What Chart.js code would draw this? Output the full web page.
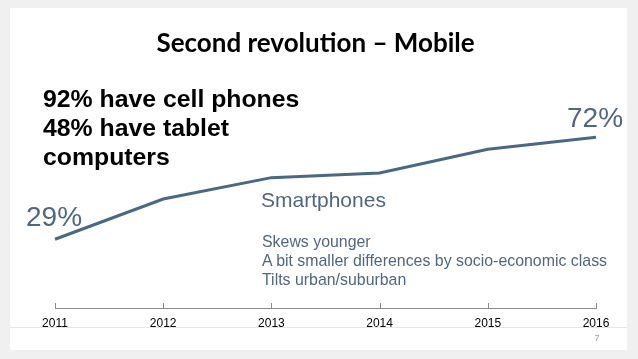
<!DOCTYPE html>
<html>
<head>
<meta charset="utf-8">
<script src="https://cdn.jsdelivr.net/npm/chart.js@4"></script>
<style>
  html, body { margin: 0; padding: 0; }
  body { width: 638px; height: 359px; background: #f0f0f0; position: relative; overflow: hidden; }
  .slide { position: absolute; left: 10px; top: 8px; width: 617px; height: 342px; background: #fff; }
  .rule { position: absolute; left: 10px; top: 327px; width: 617px; height: 1px; background: #e6e6e6; }
  #chartWrap { position: absolute; left: 0; top: 0; width: 638px; height: 359px; }
  .txt { position: absolute; white-space: nowrap; }
  .title { left: 0; width: 631px; top: 27px; text-align: center; font: bold 26px/31px Lato, sans-serif; color: #000; }
  .facts { left: 43px; top: 84px; font: bold 24.8px/29px "Liberation Sans", Arial, sans-serif; color: #000; }
  .series { left: 261px; top: 187px; font: 21px/25px "Liberation Sans", Arial, sans-serif; color: #50677f; }
  .notes { left: 262px; top: 232px; font: 15.9px/19px "Liberation Sans", Arial, sans-serif; color: #50677f; }
  .page { left: 592px; top: 333px; width: 10px; text-align: center; font: 9px/10px "Liberation Sans", Arial, sans-serif; color: #a0a0a0; }
</style>
</head>
<body>
<div class="slide"></div>
<div class="rule"></div>
<div id="chartWrap"><canvas id="mobileChart" width="638" height="359"></canvas></div>
<div class="txt title">Second revolution – Mobile</div>
<div class="txt facts">92% have cell phones<br>48% have tablet<br>computers</div>
<div class="txt series">Smartphones</div>
<div class="txt notes">Skews younger<br>A bit smaller differences by socio-economic class<br>Tilts urban/suburban</div>
<div class="txt page">7</div>
<script>
// Smartphone ownership, share of adults (%)
const years = ['2011', '2012', '2013', '2014', '2015', '2016'];
const smartphoneShare = [29, 46, 55, 57, 67, 72];
// Value callouts at the first and last point
const calloutIndexes = [0, 5];

const lineColor = '#4b6882';

// Tick marks in the reference point up from the axis line
const upTicks = {
    id: 'upTicks',
    afterDraw(chart) {
        const scale = chart.scales.x;
        const ctx = chart.ctx;
        ctx.save();
        ctx.strokeStyle = '#8a8a8a';
        ctx.lineWidth = 1;
        scale.ticks.forEach((t, i) => {
            const x = Math.round(scale.getPixelForTick(i)) + 0.5;
            ctx.beginPath();
            ctx.moveTo(x, scale.top);
            ctx.lineTo(x, scale.top - 5);
            ctx.stroke();
        });
        ctx.restore();
    }
};

// "29%" / "72%" next to the end points of the line
const endCallouts = {
    id: 'endCallouts',
    afterDatasetsDraw(chart) {
        const meta = chart.getDatasetMeta(0);
        const ctx = chart.ctx;
        ctx.save();
        ctx.font = '28px "Liberation Sans", Arial, sans-serif';
        ctx.fillStyle = '#50677f';
        ctx.textBaseline = 'alphabetic';
        ctx.textAlign = 'left';
        calloutIndexes.forEach(i => {
            const pt = meta.data[i];
            const label = smartphoneShare[i] + '%';
            const dy = i === 0 ? -13 : -10;
            ctx.fillText(label, pt.x - 29, pt.y + dy);
        });
        ctx.restore();
    }
};

new Chart(document.getElementById('mobileChart'), {
    type: 'line',
    data: {
        labels: years,
        datasets: [{
            label: 'Smartphones',
            data: smartphoneShare,
            borderColor: lineColor,
            borderWidth: 3,
            pointRadius: 0,
            tension: 0,
            fill: false
        }]
    },
    options: {
        responsive: false,
        animation: false,
        layout: { padding: { left: 55, right: 42, top: 71, bottom: 20.6 } },
        plugins: {
            legend: { display: false },
            tooltip: { enabled: false }
        },
        scales: {
            x: {
                offset: false,
                grid: { display: false, drawTicks: false },
                border: { display: true, color: '#8a8a8a', width: 1 },
                ticks: {
                    padding: 8,
                    color: '#000',
                    font: { family: '"Liberation Sans", Arial, sans-serif', size: 12 },
                    maxRotation: 0
                }
            },
            y: {
                display: false,
                min: 0,
                max: 100
            }
        }
    },
    plugins: [upTicks, endCallouts]
});
</script>
</body>
</html>
